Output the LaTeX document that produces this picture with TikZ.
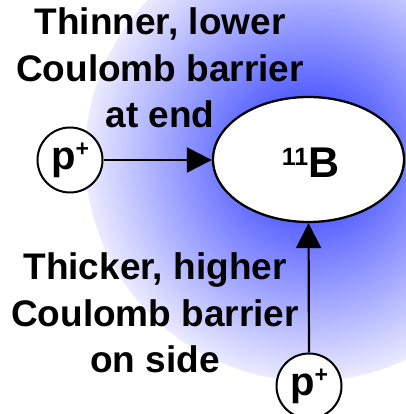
\documentclass[tikz,border=0pt]{standalone}
\usepackage{fontspec}
\setmainfont{Liberation Sans}
\usetikzlibrary{arrows.meta,shapes.geometric}
\pgfdeclareradialshading{glow}{\pgfpoint{0bp}{0bp}}{rgb(0bp)=(0.34,0.38,1); rgb(7bp)=(0.34,0.38,1); rgb(25bp)=(0.92,0.92,1); rgb(50bp)=(0.92,0.92,1)}
\tikzset{
  proton/.style={circle, draw, line width=2pt, fill=white, minimum size=65pt, inner sep=0pt,
    font=\fontsize{40}{40}\selectfont\bfseries},
  nucleus/.style={ellipse, draw, line width=2.3pt, fill=white, minimum width=191pt,
    minimum height=125pt, inner sep=0pt},
  lbl/.style={align=center, font=\fontsize{37}{46.5}\selectfont\bfseries, inner sep=0pt},
  arr/.style={line width=2.2pt, -{Triangle[length=25pt,width=25pt]}}
}
\newcommand{\psup}{\raisebox{13pt}{\fontsize{23}{23}\selectfont +}}
\begin{document}
\begin{tikzpicture}[x=1pt,y=1pt]
\useasboundingbox (0,0) rectangle (405,414);
\shade[shading=glow] (310,258) circle (225);
\node[nucleus] (B) at (308.5,254.5) {};
\node[anchor=base, inner sep=0pt, font=\fontsize{43}{43}\selectfont\bfseries] (Btext) at (310.5,236)
  {\raisebox{12pt}{\fontsize{25}{25}\selectfont 11}B};
\node[proton] (pl) at (70,254) {p\psup};
\node[proton] (pb) at (309,28) {p\psup};
\draw[arr] (pl.east) -- (pl.east -| B.west);
\draw[arr] (pb.north) -- (B.south);
\node[lbl, anchor=base] (top) at (160,286) {Thinner, lower\\Coulomb barrier\\at end};
\node[lbl, anchor=base] (bot) at (155,41) {Thicker, higher\\Coulomb barrier\\on side};
\end{tikzpicture}
\end{document}
